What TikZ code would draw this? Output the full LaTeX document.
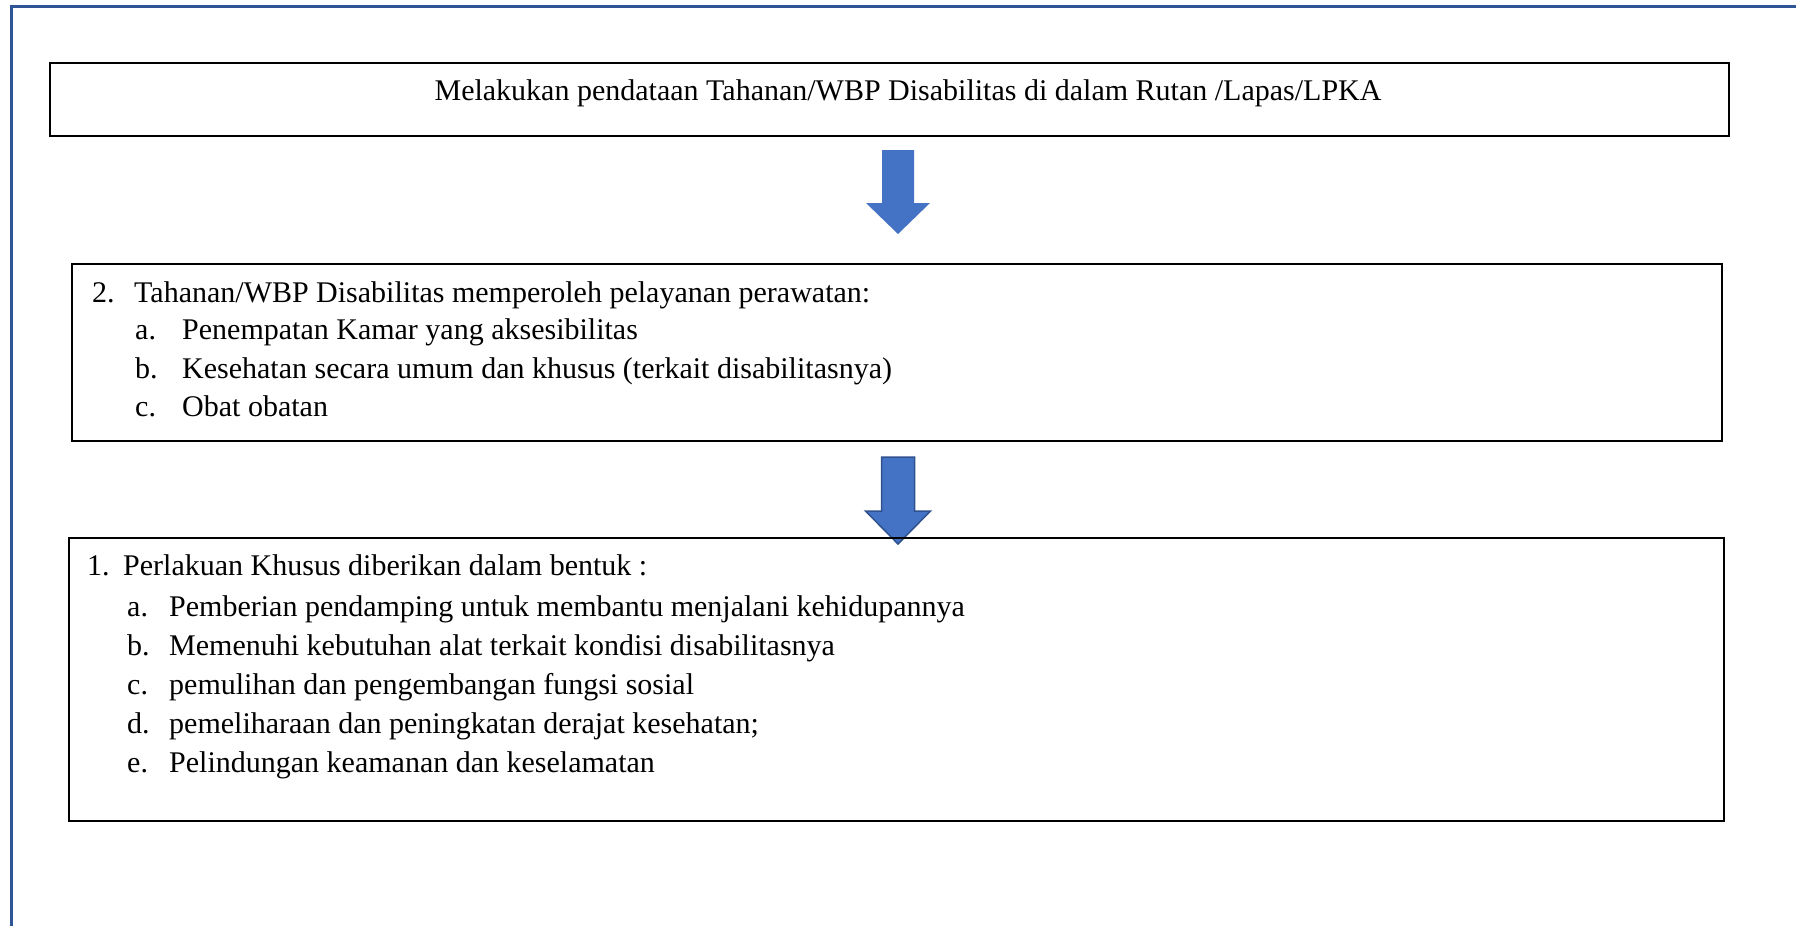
\documentclass[tikz,border=0pt]{standalone}
\usepackage{fontspec}
\setmainfont{Liberation Serif}
\usetikzlibrary{positioning}

\definecolor{framebl}{RGB}{47,85,151}
\definecolor{arrowbl}{RGB}{68,114,196}
\definecolor{arrowedge}{RGB}{47,82,143}

\begin{document}
\begin{tikzpicture}[x=1pt,y=-1pt,
    box/.style={draw=black, line width=2.4pt, inner sep=0pt, outer sep=0pt},
    txt/.style={inner sep=0pt, anchor=base west, font=\fontsize{30}{34}\selectfont}]
      \useasboundingbox (0,0) rectangle (1796,926);
      \draw[framebl, line width=3pt] (11,926) -- (11,6) -- (1796,6);

      % top box
      \node[box, minimum width=1679pt, minimum height=73pt] (pendataan) at (889.5,99.5) {};
      \node[txt, anchor=base] (pendataantxt) at (908,100) {Melakukan pendataan Tahanan/WBP Disabilitas di dalam Rutan /Lapas/LPKA};

      \coordinate (arrA) at (898,150);
      \fill[arrowbl] (arrA) ++(-16,0) -- ++(32,0) -- ++(0,53) -- ++(16,0) -- ++(-32,31) -- ++(-32,-31) -- ++(16,0) -- cycle;

      % box 2
      \node[box, minimum width=1650pt, minimum height=177pt] (perawatan) at (897,352.5) {};
      \node[txt] (num2) at (92,302) {2.};
      \node[txt] (perawatantxt) at (134,302) {Tahanan/WBP Disabilitas memperoleh pelayanan perawatan:};
      \node[txt] (p2a) at (135,339) {a.};
      \node[txt] (p2atxt) at (182,339) {Penempatan Kamar yang aksesibilitas};
      \node[txt] (p2b) at (135,378) {b.};
      \node[txt] (p2btxt) at (182,378) {Kesehatan secara umum dan khusus (terkait disabilitasnya)};
      \node[txt] (p2c) at (135,416) {c.};
      \node[txt] (p2ctxt) at (182,416) {Obat obatan};

      \coordinate (arrB) at (898,457);
      \filldraw[fill=arrowbl, draw=arrowedge, line width=1.5pt] (arrB) ++(-16.5,0) -- ++(33,0) -- ++(0,54) -- ++(16,0) -- ++(-32.5,33) -- ++(-32.5,-33) -- ++(16,0) -- cycle;

      % box 3
      \node[box, minimum width=1655pt, minimum height=283pt] (khusus) at (896.5,679.5) {};
      \node[txt] (num1) at (87,575) {1.};
      \node[txt] (khusustxt) at (123,575) {Perlakuan Khusus diberikan dalam bentuk :};
      \foreach \lbl/\item [count=\i from 0] in {a./Pemberian pendamping untuk membantu menjalani kehidupannya,
          b./Memenuhi kebutuhan alat terkait kondisi disabilitasnya,
          c./pemulihan dan pengembangan fungsi sosial,
          d./pemeliharaan dan peningkatan derajat kesehatan;,
          e./Pelindungan keamanan dan keselamatan}{
        \node[txt] (k\i) at (127,616+39*\i) {\lbl};
        \node[txt] (k\i txt) at (169,616+39*\i) {\item};
      }
    \end{tikzpicture}
\end{document}
